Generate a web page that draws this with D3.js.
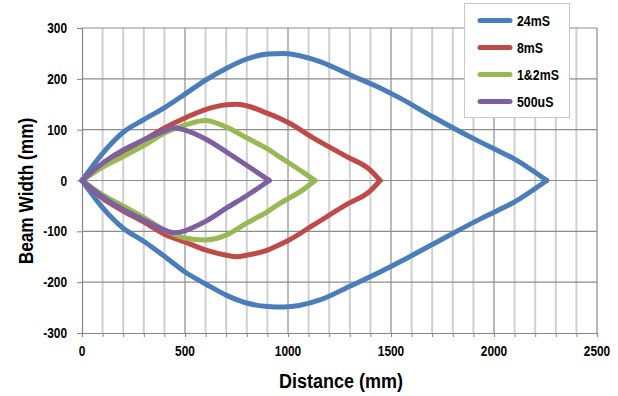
<!DOCTYPE html>
<html><head><meta charset="utf-8">
<script src="https://cdn.jsdelivr.net/npm/d3@7"></script>
<style>
body{margin:0;background:#fff;}
text{font-family:"Liberation Sans",Arial,sans-serif;font-weight:bold;fill:#000;}
</style></head>
<body><svg id="c" width="618" height="396"></svg>
<script>
// ---- data ----
const seriesNames = ["24mS", "8mS", "1&2mS", "500uS"];
const seriesColors = ["#4A7EBB", "#BE4B48", "#98B954", "#7D60A0"];

const blueX     = [0, 103, 200, 301, 403, 500, 602, 702, 799, 901, 977, 1155, 1300, 1447, 1544, 1700, 1932, 2013, 2100, 2256];
const blueUpper = [0, 55, 95, 120, 144, 170, 198, 221, 239, 249, 250, 234, 208, 182, 162, 126, 76, 60, 42, 0];
const blueLower = [0, -55, -94, -120, -150, -180, -204, -226, -241, -248, -249, -235, -208, -180, -160, -126, -76, -60, -42, 0];

const redX     = [0, 103, 200, 301, 403, 500, 602, 702, 750, 799, 901, 961, 1001, 1122, 1285, 1398, 1447];
const redUpper = [0, 34, 57, 80, 104, 123, 140, 149, 150, 147, 132, 122, 114, 84, 47, 21, 0];
const redLower = [0, -36, -60, -82, -106, -121, -137, -147, -150, -147, -137, -126, -118, -88, -47, -21, 0];

const greenX     = [0, 103, 200, 301, 403, 500, 597, 702, 799, 901, 961, 1074, 1131];
const greenUpper = [0, 27, 47, 69, 94, 109, 118, 105, 84, 62, 46, 16, 0];
const greenLower = [0, -29, -50, -73, -98, -113, -117, -107, -84, -61, -45, -18, 0];

const purpleX     = [0, 103, 200, 301, 417, 443, 500, 547, 602, 702, 799, 909];
const purpleUpper = [0, 35, 60, 80, 100, 104, 99, 92, 81, 56, 30, 0];
const purpleLower = [0, -33, -57, -78, -100, -103, -99, -91, -80, -54, -30, 0];

const xTicks = [0, 500, 1000, 1500, 2000, 2500];
const yTicks = [-300, -200, -100, 0, 100, 200, 300];
const xTitle = "Distance (mm)";
const yTitle = "Beam Width (mm)";

const seriesData = [
  [blueX, blueUpper, blueLower],
  [redX, redUpper, redLower],
  [greenX, greenUpper, greenLower],
  [purpleX, purpleUpper, purpleLower]
];

// ---- layout ----
const svg = d3.select("#c");
const L = 82, R = 597, T = 28, B = 333;
const x = d3.scaleLinear().domain([0, 2500]).range([L, R]);
const y = d3.scaleLinear().domain([-300, 300]).range([B, T]);

// minor vertical grid
const minorX = d3.range(0, 2501, 100).filter(v => v % 500 !== 0);
svg.append("g").selectAll("line").data(minorX).join("line")
  .attr("x1", d => x(d)).attr("x2", d => x(d)).attr("y1", T).attr("y2", B)
  .attr("stroke", "#d0d0d0").attr("stroke-width", 2);
// major vertical grid
svg.append("g").selectAll("line").data(xTicks.filter(v => v > 0)).join("line")
  .attr("x1", d => x(d)).attr("x2", d => x(d)).attr("y1", T).attr("y2", B)
  .attr("stroke", "#8c8c8c").attr("stroke-width", 1.2);
// horizontal grid
svg.append("g").selectAll("line").data(d3.range(-200, 301, 100)).join("line")
  .attr("x1", L).attr("x2", R).attr("y1", d => y(d)).attr("y2", d => y(d))
  .attr("stroke", "#8c8c8c").attr("stroke-width", 1.2);

// axes
const xAxis = d3.axisBottom(x).tickValues(d3.range(0, 2501, 100)).tickSize(4).tickFormat("");
const gx = svg.append("g").attr("transform", `translate(0,${B})`).call(xAxis);
gx.select(".domain").attr("stroke", "#868686").attr("stroke-width", 1.2);
gx.selectAll(".tick line").attr("stroke", "#868686");
svg.append("g").selectAll("text").data(xTicks).join("text")
  .attr("transform", d => `translate(${x(d)},${B + 23}) scale(0.95,1.1)`)
  .attr("text-anchor", "middle").attr("font-size", 12.5).text(d => d);

const yAxis = d3.axisLeft(y).tickValues(yTicks).tickSize(5).tickFormat("");
const gy = svg.append("g").attr("transform", `translate(${L},0)`).call(yAxis);
gy.select(".domain").attr("stroke", "#868686").attr("stroke-width", 1.2);
gy.selectAll(".tick line").attr("stroke", "#868686");
svg.append("g").selectAll("text").data(yTicks).join("text")
  .attr("transform", d => `translate(67,${y(d) + 5}) scale(0.95,1.1)`)
  .attr("text-anchor", "end").attr("font-size", 12.5).text(d => d);

// titles
svg.append("text").attr("transform", "translate(341,388) scale(1,1.1)").attr("text-anchor", "middle")
  .attr("font-size", 18).text(xTitle);
svg.append("text").attr("transform", "translate(33,191) rotate(-90) scale(0.96,1.1)")
  .attr("text-anchor", "middle").attr("font-size", 18).text(yTitle);

// series
const line = d3.line().x(d => x(d[0])).y(d => y(d[1])).curve(d3.curveMonotoneX);
seriesData.forEach((s, i) => {
  const [xs, up, lo] = s;
  [up, lo].forEach(ys => {
    svg.append("path").datum(xs.map((v, k) => [v, ys[k]]))
      .attr("d", line).attr("fill", "none").attr("stroke", seriesColors[i])
      .attr("stroke-width", 5).attr("stroke-linecap", "round").attr("stroke-linejoin", "round");
  });
});

// legend
const lg = svg.append("g");
lg.append("rect").attr("x", 464.5).attr("y", 3.5).attr("width", 105).attr("height", 114)
  .attr("fill", "#fff").attr("stroke", "#c8c8c8").attr("stroke-width", 1);
const rowY = [20.5, 47.5, 74.5, 101.5];
seriesNames.forEach((n, i) => {
  lg.append("line").attr("x1", 480).attr("x2", 510).attr("y1", rowY[i]).attr("y2", rowY[i])
    .attr("stroke", seriesColors[i]).attr("stroke-width", 5).attr("stroke-linecap", "round");
  lg.append("text").attr("transform", `translate(517,${rowY[i] + 5}) scale(0.95,1.1)`)
    .attr("font-size", 13).text(n);
});
</script></body></html>
